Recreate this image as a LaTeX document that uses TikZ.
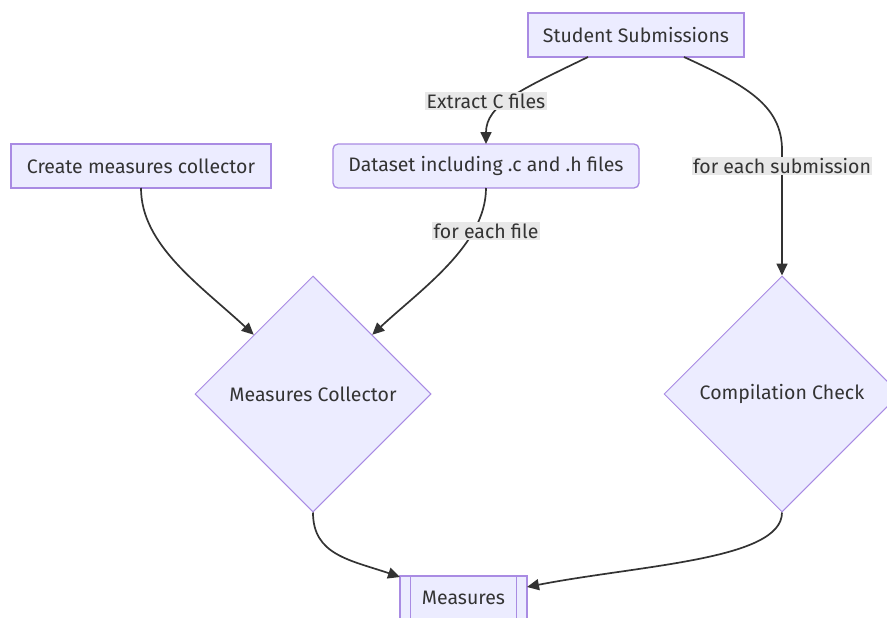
\documentclass[tikz,border=0pt]{standalone}
\usepackage{fontspec}
\setmainfont{Fira Sans}
\usetikzlibrary{shapes.geometric,arrows.meta,calc}
\definecolor{nodefill}{HTML}{ECECFF}
\definecolor{nodeline}{HTML}{A98BE3}
\definecolor{txt}{HTML}{333333}
\definecolor{lblbg}{HTML}{E8E8E8}
\definecolor{edge}{HTML}{333333}
\tikzset{
  fnt/.style={font=\fontsize{19.5}{23}\selectfont},
  box/.style={draw=nodeline, fill=nodefill, line width=1.3pt, text=txt, fnt, inner sep=0pt, minimum height=44pt},
  dia/.style={diamond, aspect=1, draw=nodeline, fill=nodefill, line width=1pt, text=txt, fnt, inner sep=0pt, minimum width=236pt, minimum height=236pt},
  lbl/.style={fill=lblbg, text=txt, fnt, inner sep=1.5pt},
  flow/.style={draw=edge, line width=1.7pt, -{Triangle[length=12pt,width=11pt]}},
}
\begin{document}
\begin{tikzpicture}[x=1pt,y=-1pt]
\useasboundingbox (0,0) rectangle (887,618);
\node[box, minimum width=216pt] (ss) at (636,35) {Student Submissions};
\node[box, minimum width=260pt] (cm) at (141,166) {Create measures collector};
\node[box, rounded corners=5pt, minimum width=306pt] (ds) at (486,166) {Dataset including .c and .h files};
\node[dia] (mc) at (313,394) {Measures Collector};
\node[dia] (cc) at (782,394) {Compilation Check};
\node[box, minimum width=127pt] (ms) at (463.5,598) {Measures};
\draw[nodeline, line width=1.3pt] ([xshift=11pt]ms.north west) -- ([xshift=11pt]ms.south west)
  ([xshift=-11pt]ms.north east) -- ([xshift=-11pt]ms.south east);
\coordinate (ssA) at (588,57);
\coordinate (ssB) at (684,57);
\coordinate (dsT) at (486,144);
\coordinate (dsB) at (486,188);
\coordinate (cmB) at (141,188);
\coordinate (msL) at (400,577);
\coordinate (msR) at (527,587);
\coordinate (mcNW) at ($(mc.north)!0.5!(mc.west)$);
\coordinate (mcNE) at ($(mc.north)!0.5!(mc.east)$);
\draw[flow] (ssA) .. controls (520,90) and (486,105) .. (dsT);
\draw[flow] (ssB) .. controls (745,85) and (782,105) .. (782,150) -- (cc.north);
\draw[flow] (cmB) .. controls (141,245) and (200,285) .. (mcNW);
\draw[flow] (dsB) .. controls (486,245) and (420,290) .. (mcNE);
\draw[flow] (mc.south) .. controls (313,555) and (350,560) .. (msL);
\draw[flow] (cc.south) .. controls (782,560) and (640,565) .. (msR);
\node[lbl] (l1) at (486,101) {Extract C files};
\node[lbl] (l2) at (782,166) {for each submission};
\node[lbl] (l3) at (486,231) {for each file};
\end{tikzpicture}
\end{document}
